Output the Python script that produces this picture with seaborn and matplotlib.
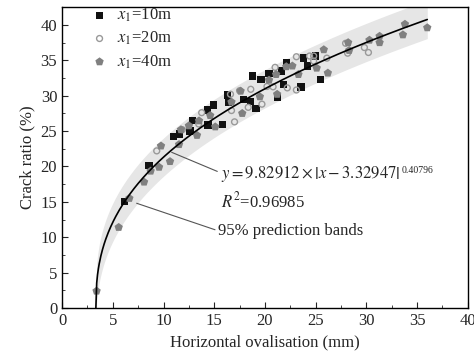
import numpy as np
import pandas as pd
import matplotlib
matplotlib.use("Agg")
import matplotlib.pyplot as plt
import seaborn as sns

# scatter data: horizontal ovalisation (mm) vs crack ratio (%)
x10_ov = [6.17, 8.57, 10.97, 11.56, 12.6, 12.84, 14.4, 14.35, 14.9, 15.8, 16.3, 16.4,
          17.86, 18.6, 19.1, 18.8, 19.6, 20.4, 21.6, 21.8, 22.1, 21.25, 23.55, 23.8,
          24.2, 25.0, 25.5]
x10_cr = [15.07, 20.1, 24.2, 24.6, 25.0, 26.45, 25.85, 27.97, 28.67, 25.9, 30.1, 29.1,
          29.5, 29.2, 28.2, 32.8, 32.3, 33.1, 33.5, 31.6, 34.65, 29.8, 31.2, 35.3,
          34.2, 35.6, 32.3]

x20_ov = [9.33, 11.85, 13.47, 13.76, 16.6, 16.7, 17.0, 17.5, 18.6, 18.35, 19.7, 21.0,
          20.8, 20.2, 22.2, 23.1, 23.1, 24.4, 24.8, 24.8, 26.1, 27.95, 28.15, 29.8, 30.2]
x20_cr = [22.2, 25.2, 26.0, 27.6, 30.2, 27.9, 26.3, 30.7, 30.9, 28.35, 28.8, 34.0,
          31.25, 31.3, 31.1, 30.8, 35.5, 35.6, 35.6, 34.9, 35.3, 37.4, 36.0, 36.8, 36.1]

x40_ov = [3.4, 5.58, 6.63, 8.08, 8.73, 9.56, 10.64, 9.75, 11.53, 11.72, 12.5, 13.3,
          13.5, 14.6, 15.1, 16.7, 17.6, 17.76, 19.5, 20.4, 21.2, 21.1, 22.1, 22.7,
          23.3, 25.1, 25.8, 26.2, 28.2, 28.3, 30.3, 31.3, 31.3, 33.6, 33.8, 36.0]
x40_cr = [2.4, 11.4, 15.5, 17.8, 19.35, 19.9, 20.7, 22.9, 23.1, 25.2, 25.75, 24.4,
          26.45, 27.2, 25.6, 29.1, 30.65, 27.5, 29.85, 32.2, 30.2, 33.0, 34.1, 34.2,
          33.0, 33.9, 36.5, 33.2, 37.5, 36.4, 37.85, 38.4, 37.5, 38.6, 40.1, 39.6]

# fitted curve y = a*|x - xc|^p as printed on the chart
fit_a, fit_xc, fit_p = 9.82912, 3.32947, 0.40796
fit_r2 = 0.96985
band_half = 2.7  # half-width of the 95% prediction band (%)

df = pd.concat([
    pd.DataFrame({"ov": x10_ov, "cr": x10_cr, "case": "10m"}),
    pd.DataFrame({"ov": x20_ov, "cr": x20_cr, "case": "20m"}),
    pd.DataFrame({"ov": x40_ov, "cr": x40_cr, "case": "40m"}),
])

xf = np.linspace(fit_xc, 36.0, 400)
fit = pd.DataFrame({"ov": xf, "cr": fit_a * np.abs(xf - fit_xc) ** fit_p})

sns.set_style("ticks")
plt.rcParams["font.family"] = ["Liberation Serif", "DejaVu Serif"]
plt.rcParams["mathtext.fontset"] = "stix"

fig = plt.figure(figsize=(4.74, 3.59), dpi=100)
ax = fig.add_axes([0.131, 0.142, 0.856, 0.838])

ax.fill_between(fit["ov"], fit["cr"] - band_half, fit["cr"] + band_half,
                color="#e6e6e6", lw=0, zorder=1)

sns.scatterplot(data=df[df.case == "10m"], x="ov", y="cr", marker="s", s=28,
                color="#111111", edgecolor="none", ax=ax, zorder=3,
                label=r"$x_{\mathrm{1}}$=10m")
sns.scatterplot(data=df[df.case == "20m"], x="ov", y="cr", marker="o", s=18,
                facecolor="none", edgecolor="#999999", linewidth=1.0, ax=ax, zorder=3,
                label=r"$x_{\mathrm{1}}$=20m")
sns.scatterplot(data=df[df.case == "40m"], x="ov", y="cr", marker="p", s=40,
                color="#808080", edgecolor="none", ax=ax, zorder=3,
                label=r"$x_{\mathrm{1}}$=40m")

sns.lineplot(data=fit, x="ov", y="cr", color="black", lw=1.2, ax=ax, zorder=4)

ax.set_xlim(0, 40)
ax.set_ylim(0, 42.5)
ax.set_xticks(np.arange(0, 41, 5))
ax.set_yticks(np.arange(0, 41, 5))
ax.set_xticks(np.arange(0, 40.1, 2.5), minor=True)
ax.set_yticks(np.arange(0, 42.5, 2.5), minor=True)
ax.tick_params(which="both", direction="in", top=False, right=False, labelsize=12)
ax.tick_params(which="major", length=4)
ax.tick_params(which="minor", length=2)
for sp in ax.spines.values():
    sp.set_linewidth(1.0)
    sp.set_color("black")
    sp.set_visible(True)

ax.set_xlabel("Horizontal ovalisation (mm)", fontsize=12, labelpad=4)
ax.set_ylabel("Crack ratio (%)", fontsize=12, labelpad=4)

leg = ax.legend(loc="upper left", frameon=False, fontsize=12, handletextpad=0.45,
                handlelength=1.2, borderaxespad=0.2, labelspacing=0.35,
                bbox_to_anchor=(0.043, 1.035))

# equation label, its exponent and the leader line
eq = ax.text(15.7, 18.9, r"$y=9.82912\times\left|x-3.32947\right|$",
             fontsize=12, va="center")
ax.annotate("0.40796", xy=(1, 1), xycoords=eq, xytext=(1, -1),
            textcoords="offset points", fontsize=7, va="top", ha="left")
ax.annotate("", xy=(10.8, 22.0), xytext=(15.3, 19.3),
            arrowprops=dict(arrowstyle="-", color="#555555", lw=0.8,
                            shrinkA=0, shrinkB=0))
ax.text(15.7, 15.1, r"$R^2$=%.5f" % fit_r2, fontsize=12, va="center")
ax.annotate("95% prediction bands", xy=(7.35, 14.8), xytext=(15.4, 10.9),
            fontsize=12, va="center",
            arrowprops=dict(arrowstyle="-", color="#555555", lw=0.8,
                            shrinkA=0, shrinkB=0, relpos=(0, 0.5)))

fig.savefig("out.png", dpi=100)
